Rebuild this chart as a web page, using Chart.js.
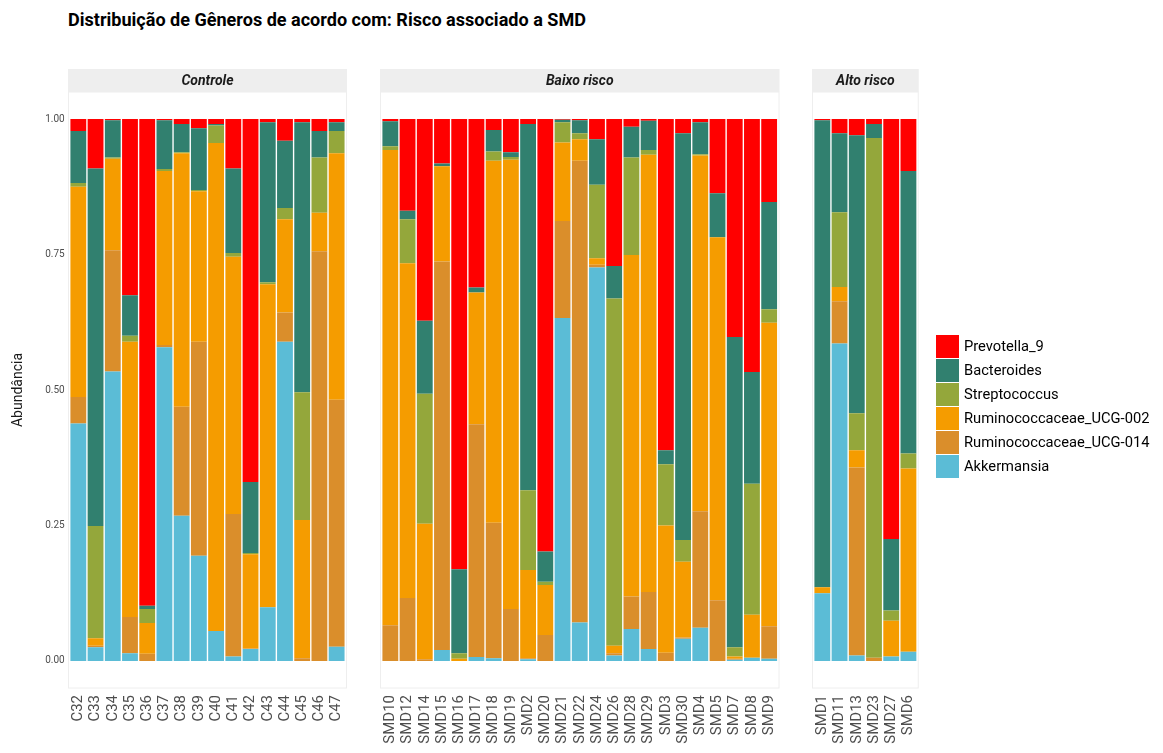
<!DOCTYPE html>
<html>
<head>
<meta charset="utf-8">
<script src="https://cdn.jsdelivr.net/npm/chart.js@4"></script>
<style>
  body { margin: 0; background: #fff; font-family: Roboto, sans-serif; }
  #wrap { position: relative; width: 1163px; height: 753px; overflow: hidden; }
  #wrap canvas { position: absolute; left: 0; top: 0; }
  #title { position: absolute; left: 68px; top: 8px; font: bold 19px Roboto; color: #000;
           transform: scaleX(0.95); transform-origin: left top; white-space: nowrap; }
  #legend { position: absolute; left: 936px; top: 334px; }
  .item { height: 24px; display: flex; align-items: center; }
  .box { width: 23px; height: 23px; margin-right: 5px; }
  .item span { font: 15px Roboto; color: #000; transform: scaleX(0.98); transform-origin: left center; white-space: nowrap; }
</style>
</head>
<body>
<div id="wrap">
  <div id="title">Distribuição de Gêneros de acordo com: Risco associado a SMD</div>
  <canvas id="c1" width="1163" height="753"></canvas>
  <canvas id="c2" width="1163" height="753"></canvas>
  <canvas id="c3" width="1163" height="753"></canvas>
  <div id="legend"></div>
</div>
<script>
// stacking order, bottom to top
const genera = ['Akkermansia', 'Ruminococcaceae_UCG-014', 'Ruminococcaceae_UCG-002', 'Streptococcus', 'Bacteroides', 'Prevotella_9'];
const colors = ['#5BBCD6', '#DA8E2B', '#F59C00', '#94A73B', '#31806F', '#FF0000'];
const yTicks = [0, 0.25, 0.5, 0.75, 1];

const controleLabels = ['C32','C33','C34','C35','C36','C37','C38','C39','C40','C41','C42','C43','C44','C45','C46','C47'];
const controleAkk   = [0.438,0.025,0.534,0.014,0,0.579,0.268,0.194,0.055,0.008,0.022,0.099,0.589,0,0,0.026];
const controleU014  = [0.049,0.003,0.224,0.067,0.013,0.004,0.201,0.395,0,0.263,0.001,0,0.054,0.005,0.756,0.456];
const controleU002  = [0.388,0.014,0.169,0.508,0.057,0.321,0.468,0.278,0.901,0.475,0.174,0.596,0.172,0.255,0.071,0.455];
const controleStrep = [0.007,0.207,0.002,0.011,0.026,0.004,0.002,0.002,0.032,0.007,0.002,0.004,0.021,0.236,0.102,0.041];
const controleBact  = [0.096,0.660,0.069,0.075,0.006,0.090,0.052,0.114,0.003,0.156,0.131,0.295,0.124,0.498,0.049,0.016];
const controlePrev  = [0.022,0.091,0.002,0.325,0.898,0.002,0.009,0.017,0.009,0.091,0.670,0.006,0.040,0.006,0.022,0.006];

const baixoLabels = ['SMD10','SMD12','SMD14','SMD15','SMD16','SMD17','SMD18','SMD19','SMD2','SMD20','SMD21','SMD22','SMD24','SMD26','SMD28','SMD29','SMD3','SMD30','SMD4','SMD5','SMD7','SMD8','SMD9'];
const baixoAkk   = [0,0,0,0.020,0,0.007,0.005,0,0.003,0,0.633,0.071,0.726,0.010,0.059,0.022,0,0.041,0.061,0,0.002,0.006,0.004];
const baixoU014  = [0.066,0.116,0.003,0.717,0,0.430,0.250,0.096,0.002,0.048,0.179,0.852,0.005,0.004,0.060,0.105,0.015,0.002,0.215,0.112,0.002,0,0.060];
const baixoU002  = [0.877,0.618,0.250,0.176,0.004,0.243,0.668,0.829,0.163,0.092,0.145,0.040,0.012,0.014,0.630,0.807,0.235,0.140,0.657,0.670,0.004,0.079,0.560];
const baixoStrep = [0.007,0.081,0.240,0,0.010,0,0.017,0.005,0.147,0.006,0.037,0.011,0.136,0.641,0.180,0.009,0.113,0.040,0.002,0,0.017,0.242,0.025];
const baixoBact  = [0.046,0.016,0.135,0.005,0.155,0.009,0.040,0.009,0.676,0.056,0.005,0.024,0.084,0.060,0.057,0.054,0.026,0.751,0.059,0.081,0.573,0.206,0.198];
const baixoPrev  = [0.004,0.169,0.372,0.082,0.831,0.311,0.020,0.061,0.009,0.798,0.001,0.002,0.037,0.271,0.014,0.003,0.611,0.026,0.006,0.137,0.402,0.467,0.153];

const altoLabels = ['SMD1','SMD11','SMD13','SMD23','SMD27','SMD6'];
const altoAkk   = [0.125,0.586,0.010,0,0.008,0.017];
const altoU014  = [0,0.078,0.347,0.006,0,0];
const altoU002  = [0.011,0.026,0.032,0,0.066,0.338];
const altoStrep = [0,0.138,0.068,0.959,0.019,0.028];
const altoBact  = [0.862,0.146,0.513,0.026,0.132,0.521];
const altoPrev  = [0.002,0.026,0.030,0.009,0.775,0.096];

// facet strip + panel border, drawn 0.1 category outside the bars like ggplot
const facetDecor = {
  id: 'facetDecor',
  beforeDraw(chart, args, opts) {
    const { ctx, chartArea: a } = chart;
    const u = (a.right - a.left) / chart.data.labels.length;
    const l = a.left - 0.1 * u, r = a.right + 0.1 * u;
    ctx.save();
    ctx.fillStyle = '#EEEEEE';
    ctx.fillRect(l, 69, r - l, 23);
    ctx.strokeStyle = '#EEEEEE';
    ctx.lineWidth = 1;
    ctx.strokeRect(l + 0.5, a.top, r - l - 1, a.bottom - a.top);
    ctx.fillStyle = '#1A1A1A';
    ctx.font = 'italic bold 14px Roboto';
    ctx.textAlign = 'center';
    ctx.textBaseline = 'middle';
    ctx.fillText(opts.label, (l + r) / 2, 81);
    ctx.restore();
  }
};

function makePanel(id, label, labels, series, left, right, showY) {
  new Chart(document.getElementById(id), {
    type: 'bar',
    data: {
      labels: labels,
      datasets: series.map((d, k) => ({
        label: genera[k], data: d, backgroundColor: colors[k],
        borderWidth: 0, barPercentage: 0.92, categoryPercentage: 1
      }))
    },
    options: {
      responsive: false, animation: false,
      layout: { padding: { left: showY ? 0 : left, right: 1163 - right, top: 92, bottom: 0 } },
      plugins: { legend: { display: false }, tooltip: { enabled: false }, facetDecor: { label: label } },
      scales: {
        x: {
          stacked: true, offset: true,
          grid: { display: false, drawTicks: false }, border: { display: false },
          ticks: { autoSkip: false, minRotation: 90, maxRotation: 90, padding: 7,
                   font: { family: 'Roboto', size: 15 }, color: '#4D4D4D' },
          afterFit: s => { s.height = 65; }
        },
        y: {
          display: showY, stacked: true, min: -0.05, max: 1.05,
          grid: { display: false, drawTicks: false }, border: { display: false },
          afterBuildTicks: s => { s.ticks = yTicks.map(v => ({ value: v })); },
          ticks: { callback: v => v.toFixed(2), font: { family: 'Roboto', size: 10 }, color: '#4D4D4D', padding: 5 },
          title: { display: true, text: 'Abundância', font: { family: 'Roboto', size: 14 }, color: '#1A1A1A', padding: { top: 10, bottom: 0 } },
          afterFit: s => { if (showY) s.width = left; }
        }
      }
    },
    plugins: [facetDecor]
  });
}

const u = 17.22;
makePanel('c1', 'Controle', controleLabels,
  [controleAkk, controleU014, controleU002, controleStrep, controleBact, controlePrev],
  68 + 0.1 * u, 68 + 16.1 * u, true);
makePanel('c2', 'Baixo risco', baixoLabels,
  [baixoAkk, baixoU014, baixoU002, baixoStrep, baixoBact, baixoPrev],
  380 + 0.1 * u, 380 + 23.1 * u, false);
makePanel('c3', 'Alto risco', altoLabels,
  [altoAkk, altoU014, altoU002, altoStrep, altoBact, altoPrev],
  812 + 0.1 * u, 812 + 6.1 * u, false);

// legend, top entry is the top of the stack
const legend = document.getElementById('legend');
genera.slice().reverse().forEach((g, i) => {
  const c = colors[genera.length - 1 - i];
  legend.insertAdjacentHTML('beforeend',
    `<div class="item"><div class="box" style="background:${c}"></div><span>${g}</span></div>`);
});
</script>
</body>
</html>
